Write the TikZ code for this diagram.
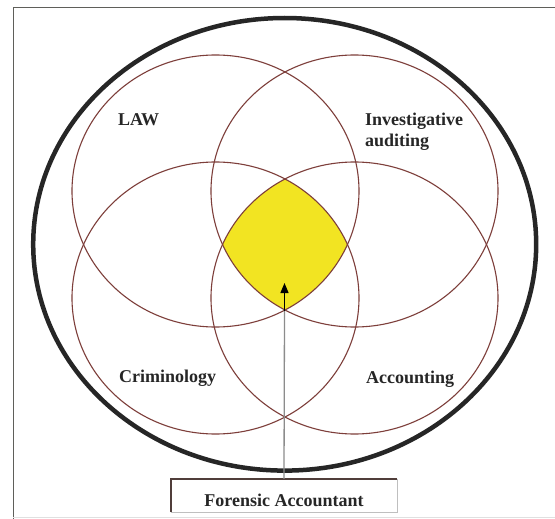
\documentclass[tikz,border=0pt]{standalone}
\usepackage{fontspec}
\setmainfont{Liberation Serif}
\usetikzlibrary{arrows.meta}
\definecolor{ringc}{RGB}{125,62,58}
\definecolor{yel}{RGB}{242,228,34}
\definecolor{framec}{RGB}{95,95,90}
\definecolor{boxdark}{RGB}{80,62,58}
\begin{document}
\begin{tikzpicture}[x=1pt,y=-1pt,
  ring/.style={draw=ringc, line width=1.1pt},
  lbl/.style={font=\fontsize{18}{21}\selectfont\bfseries, text=black!85, inner sep=0pt},
  fabox/.style={inner sep=0pt, minimum width=226pt, minimum height=33pt,
    text height=21pt, text depth=0pt, font=\fontsize{18}{21}\selectfont\bfseries, text=black!85}]
\useasboundingbox (0,0) rectangle (555,519);
\fill[white] (0,0) rectangle (555,519);
% frame
\draw[framec, line width=1.6pt] (13.3,519) -- (13.3,7.5) -- (560,7.5);
\draw[black!12, line width=1pt] (13.3,517) -- (555,517);
% yellow common region
\begin{scope}
  \clip (215.5,191) ellipse [x radius=143.5pt, y radius=136pt];
  \clip (354.5,191) ellipse [x radius=143.5pt, y radius=136pt];
  \clip (215.5,298) ellipse [x radius=143.5pt, y radius=136pt];
  \fill[yel] (354.5,298) ellipse [x radius=143.5pt, y radius=136pt];
\end{scope}
% four fields
\draw[ring] (215.5,191) ellipse [x radius=143.5pt, y radius=136pt];
\draw[ring] (354.5,191) ellipse [x radius=143.5pt, y radius=136pt];
\draw[ring] (215.5,298) ellipse [x radius=143.5pt, y radius=136pt];
\draw[ring] (354.5,298) ellipse [x radius=143.5pt, y radius=136pt];
% outer ring
\draw[black!85, line width=4.5pt] (284.7,244.3) ellipse [x radius=251.5pt, y radius=226.3pt];
% labels
\node[lbl, anchor=base west] (law) at (118,126) {LAW};
\node[lbl, anchor=north west, align=left] (inv) at (365,113) {Investigative\\auditing};
\node[lbl, anchor=base west] (crim) at (119,382) {Criminology};
\node[lbl, anchor=base west] (acc) at (366,383) {Accounting};
% box
\node[fabox] (fa) at (284,495.5) {Forensic Accountant};
\draw[boxdark, line width=1.6pt] (fa.south west) -- (fa.north west) -- (fa.north east);
\draw[black!25, line width=1pt] (fa.north east) -- (fa.south east) -- (fa.south west);
% arrow
\coordinate (cross) at (284.5,311);
\coordinate (tip) at (284.5,283);
\draw[black!45, line width=1.3pt] (fa.north) -- (cross);
\draw[black, line width=1.3pt, -{Triangle[length=10pt,width=8pt]}] (cross) -- (tip);
\end{tikzpicture}
\end{document}
